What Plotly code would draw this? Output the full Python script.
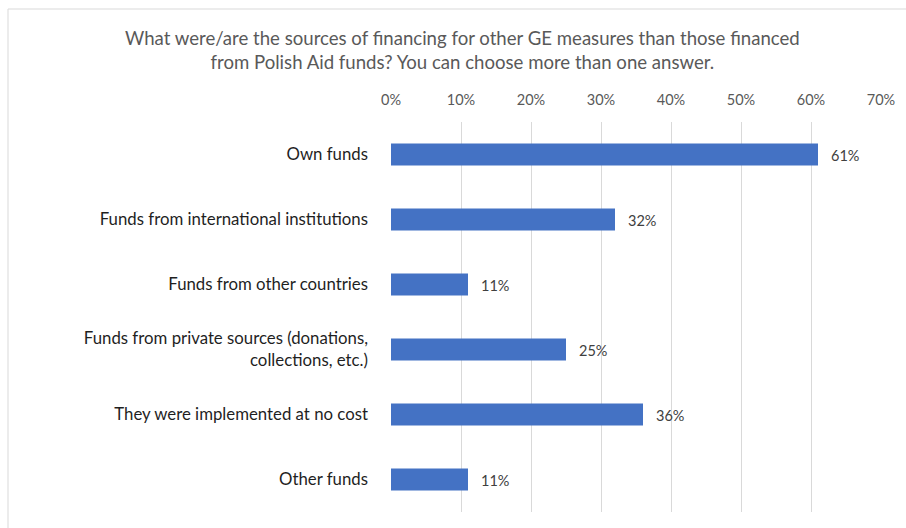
import plotly.graph_objects as go

categories = [
    "Own funds",
    "Funds from international institutions",
    "Funds from other countries",
    "Funds from private sources (donations,<br>collections, etc.)",
    "They were implemented at no cost",
    "Other funds",
]
shares = [0.61, 0.32, 0.11, 0.25, 0.36, 0.11]
tick_vals = [0, 0.1, 0.2, 0.3, 0.4, 0.5, 0.6, 0.7]
tick_text = ["0%", "10%", "20%", "30%", "40%", "50%", "60%", "70%"]
title_text = (
    "What were/are the sources of financing for other GE measures than those financed"
    "<br>from Polish Aid funds? You can choose more than one answer."
)

W, H = 906, 528
L, R, T, B = 391, 25, 122, 16
FONT = "Lato, Calibri, Carlito, sans-serif"

fig = go.Figure(
    go.Bar(
        x=shares,
        y=categories,
        orientation="h",
        marker=dict(color="#4472C4", line=dict(width=0)),
        width=0.34,
        hoverinfo="x+y",
    )
)

pw = W - L - R
ph = H - T - B

annotations = [
    dict(
        x=v,
        y=c,
        xref="x",
        yref="y",
        text=f"{round(v * 100)}%",
        showarrow=False,
        xanchor="left",
        yanchor="middle",
        xshift=11,
        yshift=-1,
        font=dict(family=FONT, size=14.5, color="#404040"),
    )
    for c, v in zip(categories, shares)
]
annotations.append(
    dict(
        x=(462 - L) / pw,
        y=(H - 25 - B) / ph,
        xref="paper",
        yref="paper",
        text=title_text,
        showarrow=False,
        xanchor="center",
        yanchor="top",
        align="center",
        font=dict(family=FONT, size=18.6, color="#595959"),
    )
)

fig.update_layout(
    width=W,
    height=H,
    margin=dict(l=L, r=R, t=T, b=B),
    paper_bgcolor="white",
    plot_bgcolor="white",
    showlegend=False,
    font=dict(family=FONT, size=14, color="#262626"),
    xaxis=dict(
        side="top",
        range=[0, 0.7],
        tickvals=tick_vals,
        ticktext=tick_text,
        showgrid=True,
        gridcolor="#D9D9D9",
        gridwidth=1,
        zeroline=False,
        showline=False,
        ticks="",
        tickfont=dict(family=FONT, size=14.5, color="#595959"),
        ticklabelstandoff=13,
        fixedrange=True,
    ),
    yaxis=dict(
        autorange="reversed",
        showgrid=False,
        zeroline=False,
        showline=False,
        ticks="",
        tickfont=dict(family=FONT, size=16.8, color="#1F1F1F"),
        ticklabelstandoff=22,
        fixedrange=True,
    ),
    annotations=annotations,
    shapes=[
        dict(
            type="rect",
            xref="paper",
            yref="paper",
            x0=(8 - L) / pw,
            x1=(W + 10 - L) / pw,
            y0=-0.3,
            y1=(H - 9 - B) / ph,
            line=dict(color="#D9D9D9", width=1),
            fillcolor="rgba(0,0,0,0)",
            layer="below",
        )
    ],
)

fig.write_html("out.html")
